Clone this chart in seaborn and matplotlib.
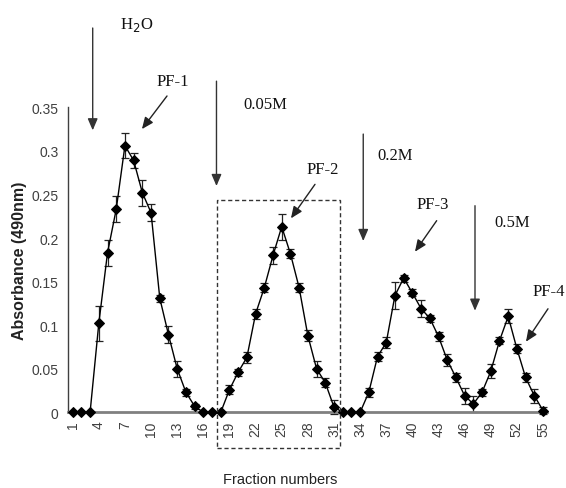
import matplotlib
matplotlib.use("Agg")
import matplotlib.pyplot as plt
import seaborn as sns
import numpy as np
import pandas as pd
from matplotlib.patches import Rectangle
import logging
logging.getLogger('matplotlib.font_manager').setLevel(logging.ERROR)

fractions = list(range(1, 56))
absorbance = [0, 0, 0, 0.102, 0.183, 0.233, 0.306, 0.289, 0.252, 0.229,
              0.131, 0.089, 0.050, 0.023, 0.007, 0, 0, 0, 0.026, 0.046,
              0.063, 0.113, 0.143, 0.180, 0.213, 0.182, 0.143, 0.088, 0.050, 0.034,
              0.006, 0, 0, 0, 0.023, 0.064, 0.080, 0.134, 0.154, 0.137,
              0.119, 0.108, 0.087, 0.060, 0.040, 0.019, 0.0096, 0.023, 0.047, 0.082,
              0.110, 0.073, 0.040, 0.019, 0.002]
errors = [0, 0, 0, 0.020, 0.015, 0.015, 0.014, 0.009, 0.015, 0.010,
          0.004, 0.010, 0.009, 0.004, 0.003, 0, 0, 0, 0.005, 0.004,
          0.006, 0.006, 0.005, 0.010, 0.015, 0.005, 0.005, 0.006, 0.009, 0.005,
          0.008, 0, 0, 0, 0.005, 0.005, 0.006, 0.015, 0.004, 0.004,
          0.010, 0.004, 0.005, 0.007, 0.005, 0.009, 0.009, 0.004, 0.008, 0.004,
          0.008, 0.005, 0.005, 0.008, 0.004]
xtick_values = list(range(1, 56, 3))
ytick_values = [0, 0.05, 0.1, 0.15, 0.2, 0.25, 0.3, 0.35]
ytick_labels = ["0", "0.05", "0.1", "0.15", "0.2", "0.25", "0.3", "0.35"]

# eluent step arrows
eluent_labels = ["H$_2$O", "0.05M", "0.2M", "0.5M"]
eluent_x = [3.30, 17.51, 34.36, 47.19]
eluent_ytop = [0.441, 0.380, 0.3193, 0.2371]
eluent_ybot = [0.3236, 0.2597, 0.1966, 0.1166]
eluent_tx = [6.43, 20.55, 36.02, 49.40]
eluent_ty = [0.4456, 0.354, 0.2953, 0.2184]

# peak labels
peak_labels = ["PF-1", "PF-2", "PF-3", "PF-4"]
peak_tx = [10.68, 27.79, 40.49, 53.85]
peak_ty = [0.380, 0.2792, 0.2390, 0.1395]
peak_ax0 = [11.83, 28.82, 42.79, 55.57]
peak_ay0 = [0.363, 0.2616, 0.2199, 0.1188]
peak_ax1 = [8.95, 26.06, 40.30, 53.04]
peak_ay1 = [0.325, 0.2226, 0.1843, 0.0810]

df = pd.DataFrame({"Fraction": fractions, "Absorbance": absorbance, "err": errors})

sns.set_style("white")
plt.rcParams['font.family'] = ['Liberation Sans', 'DejaVu Sans']

fig = plt.figure(figsize=(5.66, 4.89), dpi=100)
ax = fig.add_axes([0.1207, 0.1548, 0.8464, 0.6237])

ax.errorbar(df["Fraction"], df["Absorbance"], yerr=df["err"], fmt="none",
            ecolor="#222222", elinewidth=0.9, capsize=3.2, capthick=0.9, zorder=2,
            clip_on=False)
sns.lineplot(data=df, x="Fraction", y="Absorbance", ax=ax, color="black",
             linewidth=1.0, marker="D", markersize=5.5, markeredgecolor="black",
             markerfacecolor="black", zorder=3, clip_on=False)

ax.set_xlim(0.5, 55.5)
ax.set_ylim(0, 0.35)
ax.set_xticks(xtick_values)
ax.set_xticklabels([str(v) for v in xtick_values], rotation=90, fontsize=10,
                   color="#404040")
ax.set_yticks(ytick_values)
ax.set_yticklabels(ytick_labels, fontsize=10, color="#404040")
ax.set_xlabel("")
ax.set_ylabel("")
ax.tick_params(axis="x", direction="out", length=4, width=1, color="#808080", pad=2)
ax.tick_params(axis="y", direction="out", length=4, width=1, color="#404040", pad=3)
for s in ["top", "right"]:
    ax.spines[s].set_visible(False)
ax.spines["bottom"].set_color("#808080")
ax.spines["bottom"].set_linewidth(2)
ax.spines["left"].set_color("#404040")
ax.spines["left"].set_linewidth(1)

fig.text(0.495, 0.0184, "Fraction numbers", ha="center", va="center", fontsize=10.5,
         color="#222222")
fig.text(0.0353, 0.466, "Absorbance (490nm)", rotation=90, ha="center", va="center",
         fontsize=11.5, fontweight="bold", color="#222222")

serif = ['Liberation Serif', 'DejaVu Serif']
for lab, x, y0, y1, tx, ty in zip(eluent_labels, eluent_x, eluent_ytop, eluent_ybot,
                                  eluent_tx, eluent_ty):
    ax.annotate("", xy=(x, y1), xytext=(x, y0), xycoords="data",
                annotation_clip=False,
                arrowprops=dict(arrowstyle="-|>,head_length=0.7,head_width=0.3",
                                color="#333333", lw=1.0, shrinkA=0, shrinkB=0))
    ax.text(tx, ty, lab, ha="left", va="center", fontsize=12, family=serif,
            color="#111111", clip_on=False)

for lab, tx, ty, x0, y0, x1, y1 in zip(peak_labels, peak_tx, peak_ty, peak_ax0,
                                       peak_ay0, peak_ax1, peak_ay1):
    ax.annotate("", xy=(x1, y1), xytext=(x0, y0), xycoords="data",
                annotation_clip=False,
                arrowprops=dict(arrowstyle="-|>,head_length=0.7,head_width=0.3",
                                color="#222222", lw=1.0, shrinkA=0, shrinkB=0))
    ax.text(tx, ty, lab, ha="left", va="center", fontsize=12, family=serif,
            color="#111111", clip_on=False)

rect = Rectangle((17.53, -0.0409), 31.69 - 17.53, 0.2436 + 0.0409, fill=False,
                 linestyle=(0, (3, 2)), edgecolor="#333333", linewidth=1.0,
                 clip_on=False, zorder=4)
ax.add_patch(rect)

fig.savefig("out.png", dpi=100)
